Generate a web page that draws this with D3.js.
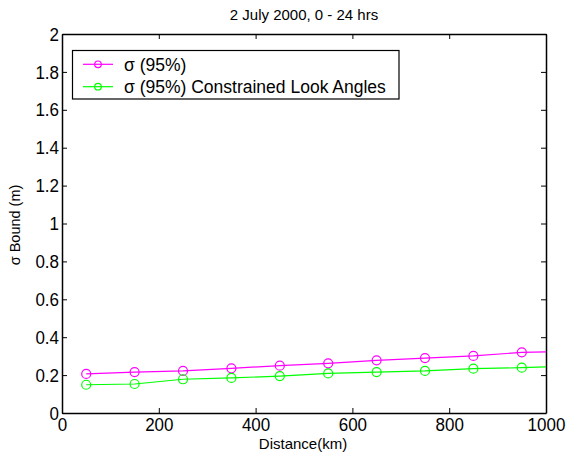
<!DOCTYPE html>
<html lang="en">
<head>
    <meta charset="UTF-8">
    <title>sigma bound</title>
    <script src="https://cdnjs.cloudflare.com/ajax/libs/d3/7.8.5/d3.min.js"></script>
    <style>
        body { margin: 0; background: #fff; }
        svg text { font-family: "Liberation Sans", Arial, sans-serif; fill: #000; }
        .tick text {
            transform-box: fill-box;
            transform-origin: center;
            transform: scaleY(1.12);
        }
    </style>
</head>
<body>
<svg id="chart" width="576" height="454"></svg>
<script>
    // data
    const distance = [50, 150, 250, 350, 450, 550, 650, 750, 850, 950, 1050];
    const sigma95 = [0.206, 0.216, 0.222, 0.236, 0.250, 0.262, 0.278, 0.290, 0.301, 0.320, 0.326];
    const sigmaConstrained = [0.149, 0.153, 0.178, 0.185, 0.195, 0.209, 0.216, 0.222, 0.234, 0.239, 0.247];
    const seriesNames = ["\u03c3 (95%)", "\u03c3 (95%) Constrained Look Angles"];
    const xTicks = [0, 200, 400, 600, 800, 1000];
    const yTicks = [0, 0.2, 0.4, 0.6, 0.8, 1, 1.2, 1.4, 1.6, 1.8, 2];

    const mLeft = 62, mRight = 546, mTop = 34, mBottom = 413;
    const svg = d3.select("#chart");

    const x = d3.scaleLinear().domain([0, 1000]).range([mLeft, mRight]);
    const y = d3.scaleLinear().domain([0, 2]).range([mBottom, mTop]);

    svg.append("clipPath").attr("id", "clip")
        .append("rect").attr("x", mLeft).attr("y", mTop)
        .attr("width", mRight - mLeft).attr("height", mBottom - mTop);

    // axes, ticks pointing inward on all four sides
    const fmt = d => String(d);
    svg.append("g").attr("transform", `translate(0,${mBottom})`)
        .call(d3.axisBottom(x).tickValues(xTicks).tickFormat(fmt).tickSizeInner(-5).tickSizeOuter(0).tickPadding(5));
    svg.append("g").attr("transform", `translate(0,${mTop})`)
        .call(d3.axisTop(x).tickValues(xTicks).tickFormat("").tickSizeInner(-5).tickSizeOuter(0));
    svg.append("g").attr("transform", `translate(${mLeft},0)`)
        .call(d3.axisLeft(y).tickValues(yTicks).tickFormat(fmt).tickSizeInner(-5).tickSizeOuter(0).tickPadding(3));
    svg.append("g").attr("transform", `translate(${mRight},0)`)
        .call(d3.axisRight(y).tickValues(yTicks).tickFormat("").tickSizeInner(-5).tickSizeOuter(0));

    svg.selectAll(".domain").attr("stroke", "#000").attr("stroke-width", 1.5);
    svg.selectAll(".tick line").attr("stroke", "#000");
    svg.selectAll(".tick text").style("font-size", "17px").style("font-family", "Liberation Sans, Arial, sans-serif");

    // series
    const series = [
        {name: seriesNames[0], values: sigma95, color: "#ff00ff"},
        {name: seriesNames[1], values: sigmaConstrained, color: "#00ff00"}
    ];
    const line = d3.line().x((d, i) => x(distance[i])).y(d => y(d));
    const plot = svg.append("g").attr("clip-path", "url(#clip)");
    series.forEach(s => {
        plot.append("path").datum(s.values)
            .attr("d", line).attr("fill", "none")
            .attr("stroke", s.color).attr("stroke-width", 1.2);
        plot.selectAll(null).data(s.values).enter().append("circle")
            .attr("cx", (d, i) => x(distance[i])).attr("cy", d => y(d))
            .attr("r", 4.5).attr("fill", "none")
            .attr("stroke", s.color).attr("stroke-width", 1.2);
    });

    // legend
    const lg = svg.append("g");
    lg.append("rect").attr("x", 72.5).attr("y", 50.5).attr("width", 326.5).attr("height", 48.5)
        .attr("fill", "#fff").attr("stroke", "#000").attr("stroke-width", 1.2);
    series.forEach((s, i) => {
        const ly = 64.3 + i * 22.4;
        lg.append("line").attr("x1", 83).attr("x2", 113).attr("y1", ly).attr("y2", ly)
            .attr("stroke", s.color).attr("stroke-width", 1.2);
        lg.append("circle").attr("cx", 98).attr("cy", ly).attr("r", 3.3)
            .attr("fill", "none").attr("stroke", s.color).attr("stroke-width", 1.2);
        lg.append("text").attr("x", 124).attr("y", ly + 6.5)
            .style("font-size", "17.5px").text(s.name);
    });

    // title and labels
    svg.append("text").attr("x", 304).attr("y", 20)
        .attr("text-anchor", "middle").style("font-size", "15px")
        .text("2 July 2000, 0 - 24 hrs");
    svg.append("text").attr("x", 303).attr("y", 449)
        .attr("text-anchor", "middle").style("font-size", "15px")
        .text("Distance(km)");
    svg.append("text").attr("transform", "translate(20,225) rotate(-90)")
        .attr("text-anchor", "middle").style("font-size", "14.5px")
        .text("\u03c3 Bound (m)");
</script>
</body>
</html>
